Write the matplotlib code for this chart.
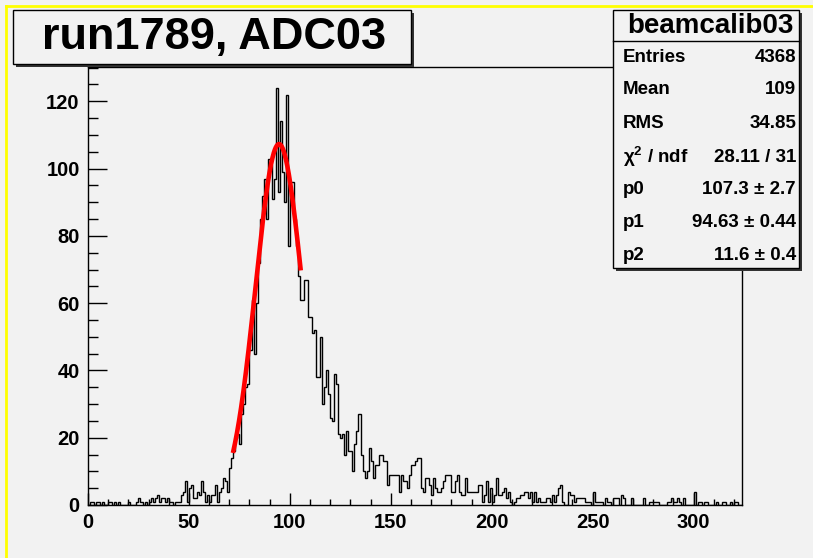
import numpy as np
import matplotlib
matplotlib.use("Agg")
import matplotlib.pyplot as plt
from matplotlib.patches import Rectangle
from matplotlib.lines import Line2D
from matplotlib.ticker import MultipleLocator

# ---------------- data ----------------
bin_low, bin_width = 0, 1
counts_low = [0, 1, 1, 0, 1, 1, 0, 1, 0, 0, 1, 1, 0, 1, 0, 1, 0, 0, 0, 0,
              1, 0, 0, 0, 1, 2, 1, 0, 1, 0, 1, 2, 1, 2, 3, 1, 2, 2, 1, 2,
              1, 1, 0, 1, 1, 1, 3, 4, 7, 1, 5, 6, 2, 2, 4, 3, 7, 4, 1, 3,
              1, 3, 3, 6, 1, 4, 5, 8, 7, 4]
counts_peak = [11, 14, 16, 20, 21, 18, 27, 30, 35, 36, 46, 61, 45, 60, 72, 85, 92, 97, 85, 103,
               101, 91, 97, 124, 93, 114, 99, 90, 122, 77, 96, 96, 85, 77, 68, 61, 61, 67, 67, 56,
               56, 51, 52, 38, 38, 50, 30, 35, 40, 33, 26, 25, 39, 36, 21, 20, 21, 15, 22, 16]
counts_tail = [16, 10, 18, 22, 27, 15, 10, 8, 10, 17, 13, 8, 12, 12, 15, 15, 13, 13, 6, 9,
               9, 9, 9, 9, 4, 9, 7, 7, 5, 9, 12, 12, 13, 14, 14, 5, 4, 8, 8, 6,
               3, 8, 5, 4, 4, 5, 7, 9, 9, 9, 4, 4, 7, 9, 4, 3, 3, 8, 4, 4,
               4, 4, 4, 6, 6, 1, 3, 7, 1, 5, 1, 3, 8, 3, 3, 4, 5, 2, 4, 1,
               0, 1, 2, 2, 3, 3, 4, 4, 2, 4, 1, 4, 1, 2, 1, 1, 1, 2, 2, 1,
               3, 1, 3, 5, 6, 1, 0, 0, 4, 3, 3, 1, 2, 2, 2, 2, 1, 1, 1, 0,
               4, 1, 1, 1, 1, 0, 2, 1, 1, 0, 2, 2, 2, 0, 3, 2, 0, 0, 0, 2,
               0, 0, 0, 0, 0, 2, 0, 0, 1, 1, 1, 1, 1, 0, 0, 0, 0, 1, 1, 2,
               1, 1, 2, 1, 0, 2, 0, 0, 0, 0, 4, 0, 1, 1, 0, 1, 1, 0, 0, 0,
               0, 1, 0, 0, 1, 1, 0, 0, 1, 0, 1, 1, 0, 0]

fit_p0, fit_p1, fit_p2 = 107.3, 94.63, 11.6
fit_range = (71.8, 105.4)

title_text = "run1789, ADC03"
stats_title = "beamcalib03"
stats_labels = ["Entries", "Mean", "RMS", r"$\mathregular{\chi}^{2}$ / ndf", "p0", "p1", "p2"]
stats_values = ["4368", "109", "34.85", "28.11 / 31", "107.3 ± 2.7", "94.63 ± 0.44", "11.6 ± 0.4"]

counts = np.array(counts_low + counts_peak + counts_tail, dtype=float)
edges = bin_low + bin_width * np.arange(len(counts) + 1)

# ---------------- figure ----------------
W, H = 813, 558
bg = "#f2f2f2"
plt.rcParams["font.family"] = ["Liberation Sans", "DejaVu Sans"]
plt.rcParams["font.weight"] = "bold"
plt.rcParams["mathtext.fontset"] = "custom"
plt.rcParams["mathtext.rm"] = "Liberation Sans:bold"
plt.rcParams["mathtext.it"] = "DejaVu Sans:italic"

fig = plt.figure(figsize=(W / 100, H / 100), dpi=100, facecolor=bg)

def fx(px):
    return px / W

def fy(py):
    return 1 - py / H

ax = fig.add_axes([fx(88), fy(505), fx(742) - fx(88), fy(67) - fy(505)], facecolor=bg)
ax.stairs(counts, edges, color="black", lw=1.0, baseline=0)

xf = np.linspace(fit_range[0], fit_range[1], 200)
yf = fit_p0 * np.exp(-0.5 * ((xf - fit_p1) / fit_p2) ** 2)
ax.plot(xf, yf, color="#ff0000", lw=3.3, solid_capstyle="butt")

ax.set_xlim(edges[0], edges[-1])
ax.set_ylim(0, 1.05 * counts.max())

ax.xaxis.set_major_locator(MultipleLocator(50))
ax.xaxis.set_minor_locator(MultipleLocator(10))
ax.yaxis.set_major_locator(MultipleLocator(20))
ax.yaxis.set_minor_locator(MultipleLocator(5))
ax.tick_params(axis="x", which="major", direction="in", length=9, width=1, labelsize=14.5, pad=6)
ax.tick_params(axis="x", which="minor", direction="in", length=4.5, width=1)
ax.tick_params(axis="y", which="major", direction="in", length=14, width=1, labelsize=14.5, pad=6)
ax.tick_params(axis="y", which="minor", direction="in", length=7, width=1)
for lab in ax.get_xticklabels() + ax.get_yticklabels():
    lab.set_fontweight("bold")
for s in ax.spines.values():
    s.set_linewidth(1.0)
    s.set_color("black")

# yellow canvas highlight
fig.add_artist(Line2D([fx(6), fx(6)], [fy(6), 0], color="#ffff00", lw=2.0))
fig.add_artist(Line2D([fx(6), 1], [fy(6), fy(6)], color="#ffff00", lw=2.0))

def shadow_box(x0, y0, x1, y1, off=3):
    fig.add_artist(Rectangle((fx(x0 + off), fy(y1 + off)), fx(x1) - fx(x0), fy(y0) - fy(y1),
                             facecolor="#333333", edgecolor="none", zorder=5))
    fig.add_artist(Rectangle((fx(x0), fy(y1)), fx(x1) - fx(x0), fy(y0) - fy(y1),
                             facecolor=bg, edgecolor="black", lw=1.0, zorder=6))

# title box
shadow_box(13, 10, 411, 64)
fig.text(fx(214), fy(38), title_text, ha="center", va="center", fontsize=32.5,
         fontweight="bold", zorder=7)

# stats box
shadow_box(613, 10, 799, 268)
fig.add_artist(Line2D([fx(613), fx(799)], [fy(41), fy(41)], color="black", lw=1.0, zorder=7))
fig.text(fx(710), fy(26), stats_title, ha="center", va="center", fontsize=20,
         fontweight="bold", zorder=7)
row_y = [57, 90, 123, 157, 190, 223, 256]
for lab, val, ry in zip(stats_labels, stats_values, row_y):
    fig.text(fx(623), fy(ry), lab, ha="left", va="center", fontsize=13.5,
             fontweight="bold", zorder=7)
    fig.text(fx(796), fy(ry), val, ha="right", va="center", fontsize=13.5,
             fontweight="bold", zorder=7)

fig.savefig("out.png", dpi=100, facecolor=bg)
